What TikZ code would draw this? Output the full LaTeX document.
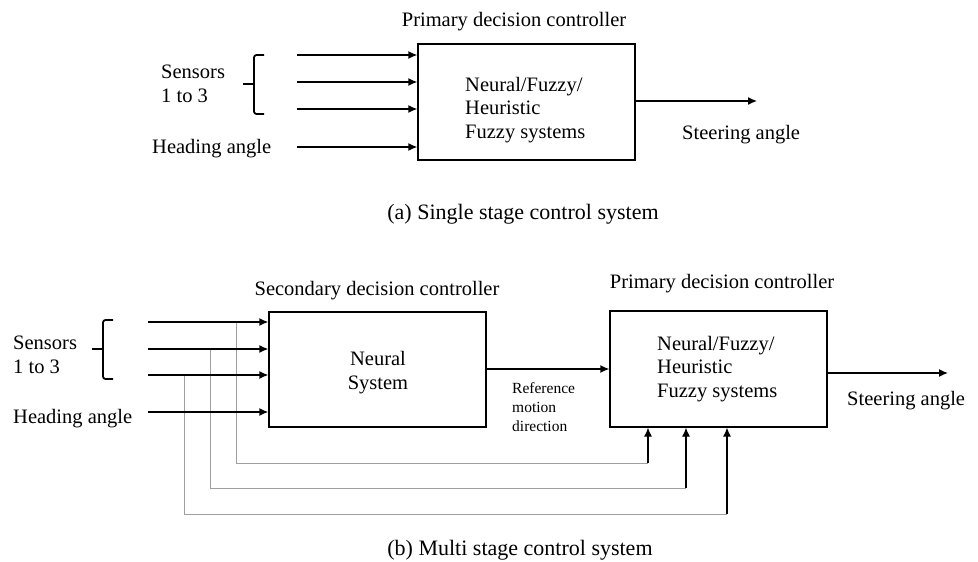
\documentclass[tikz,border=0pt]{standalone}
\usepackage{fontspec}
\setmainfont{Liberation Serif}
\usetikzlibrary{arrows.meta}
\newcommand\labfont{\fontsize{20.5}{24}\selectfont}
\newcommand\capfont{\fontsize{22}{26}\selectfont}
\newcommand\reffont{\fontsize{15.5}{19}\selectfont}
\begin{document}
\begin{tikzpicture}[x=1pt,y=-1pt,
  box/.style={draw,line width=1.3pt,inner sep=0pt},
  arr/.style={line width=1.3pt,-{Latex[length=9pt,width=8pt]}},
  fb/.style={gray!75,line width=0.9pt},
  txt/.style={inner sep=0pt,font=\labfont,align=left},
  brace/.style={line width=1.8pt,rounded corners=2.5pt}]
\useasboundingbox (0,0) rectangle (978,562);

% ---------- (a) single stage ----------
\node[box,minimum width=217pt,minimum height=116pt] (A) at (526.5,102) {};
\node[txt,anchor=base] (At) at (514,26) {Primary decision controller};
% multi-line texts are placed by the baseline of their last line
\node[txt,anchor=base west,font=\fontsize{20.5}{23.5}\selectfont] (Ab) at (465,138) {Neural/Fuzzy/\\Heuristic\\Fuzzy systems};

\node[txt,anchor=base west] (As) at (161,102) {Sensors\\1 to 3};
\node[txt,anchor=base west] (Ah) at (152,153) {Heading angle};

\coordinate (a1) at (297,55);
\coordinate (a2) at (297,82);
\coordinate (a3) at (297,109);
\coordinate (a4) at (297,147);
\foreach \c in {a1,a2,a3,a4} \draw[arr] (\c) -- (\c -| A.west);

% bracket grouping the three sensors
\draw[brace] (264,55) -- (254,55) -- (254,114) -- (264,114);
\draw[line width=1.8pt] (243,84) -- (254,84);

\coordinate (ao) at (757,101);
\draw[arr] (ao -| A.east) -- (ao);
\node[txt,anchor=base west] (Asa) at (682,139) {Steering angle};
\node[txt,anchor=base,font=\capfont] (Acap) at (523,219) {(a) Single stage control system};

% ---------- (b) multi stage ----------
\node[box,minimum width=217pt,minimum height=115pt] (N) at (377.5,369.5) {};
\node[box,minimum width=217pt,minimum height=116pt] (P) at (718.5,369) {};
\node[txt,anchor=base] (Nt) at (377,295) {Secondary decision controller};
\node[txt,anchor=base] (Pt) at (722,288) {Primary decision controller};
\node[txt,anchor=base,align=center] (Nb) at (378,389) {Neural\\System};
\node[txt,anchor=base west,font=\fontsize{20.5}{23.5}\selectfont] (Pb) at (657,397) {Neural/Fuzzy/\\Heuristic\\Fuzzy systems};

\node[txt,anchor=base west] (Bs) at (13,373) {Sensors\\1 to 3};
\node[txt,anchor=base west] (Bh) at (13,423) {Heading angle};

\coordinate (b1) at (148,322);
\coordinate (b2) at (148,349);
\coordinate (b3) at (148,375);
\coordinate (b4) at (148,412);

% feedback paths from the sensor lines to the primary controller
\coordinate (t1) at (236,322);
\coordinate (t2) at (210,349);
\coordinate (t3) at (184,375);
\coordinate (f1) at (648,463);
\coordinate (f2) at (686,488);
\coordinate (f3) at (727,514);
\draw[fb] (t1) |- (f1);
\draw[fb] (t2) |- (f2);
\draw[fb] (t3) |- (f3);
\foreach \f in {f1,f2,f3} \draw[arr,line width=1.1pt] (\f) -- (\f |- P.south);

\foreach \c in {b1,b2,b3,b4} \draw[arr] (\c) -- (\c -| N.west);

% bracket grouping the three sensors
\draw[brace] (113,320) -- (103,320) -- (103,379) -- (113,379);
\draw[line width=1.8pt] (92,349) -- (103,349);

\coordinate (m) at (486,369);
\draw[arr] (m -| N.east) -- (m -| P.west);
\node[txt,anchor=base west,font=\reffont,align=left] (Rm) at (512,431) {Reference\\motion\\direction};

\coordinate (bo) at (948,373);
\draw[arr] (bo -| P.east) -- (bo);
\node[txt,anchor=base west] (Bsa) at (847,405) {Steering angle};
\node[txt,anchor=base,font=\capfont] (Bcap) at (520,555) {(b) Multi stage control system};
\end{tikzpicture}
\end{document}
